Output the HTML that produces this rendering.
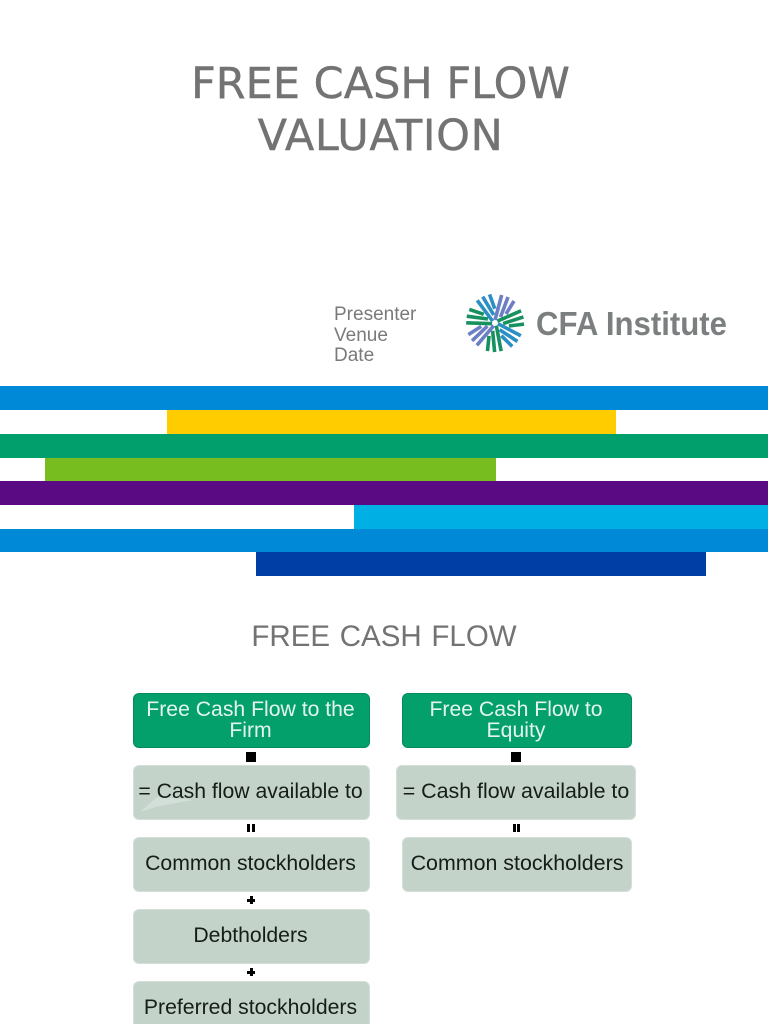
<!DOCTYPE html>
<html>
<head>
<meta charset="utf-8">
<style>
html,body{margin:0;padding:0;background:#fff;}
#p{position:relative;width:768px;height:1024px;overflow:hidden;background:#fff;font-family:"Liberation Sans",sans-serif;}
#p div{position:absolute;}
.t{color:#737373;text-align:center;white-space:nowrap;}
.b{display:flex;align-items:center;justify-content:center;text-align:center;box-sizing:border-box;border-radius:6px;height:55px;padding-right:2px;font-size:21.2px;line-height:21px;}
.g{background:#04a06b;color:#e4f5ee;border:1px solid #038a5c;padding-bottom:2px;}
.s{background:#c3d3ca;color:#161c18;border:1px solid #d3dfd8;white-space:nowrap;padding-bottom:3px;}
.o{background:#000;}
</style>
</head>
<body>
<div id="p">
<div class="t" style="left:0;top:58px;width:761px;font-family:'DejaVu Sans',sans-serif;font-size:43px;line-height:52px;-webkit-text-stroke:0.4px #737373;">FREE CASH FLOW<br><span style="letter-spacing:0.6px;">VALUATION</span></div>
<div style="left:334px;top:305px;font-size:19px;line-height:20.5px;color:#7a7a7a;">Presenter<br>Venue<br>Date</div>

<svg style="position:absolute;left:460px;top:288px;" width="275" height="70" viewBox="460 288 275 70">
<defs>
<g id="bl" fill="none" stroke-width="3.6">
<path d="M0 -3 L6.7 -28"/><path d="M5.5 -6 L13 -26"/><path d="M11 -9 L19 -22"/>
</g>
</defs>
<g transform="translate(495 323)">
<use href="#bl" stroke="#6d7fc4"/>
<use href="#bl" stroke="#17915f" transform="rotate(51.4)"/>
<use href="#bl" stroke="#2b8fc4" transform="rotate(102.8)"/>
<use href="#bl" stroke="#17915f" transform="rotate(154.2)"/>
<use href="#bl" stroke="#6d7fc4" transform="rotate(205.6)"/>
<use href="#bl" stroke="#17915f" transform="rotate(257)"/>
<use href="#bl" stroke="#2b8fc4" transform="rotate(308.4)"/>
</g>
<text x="536" y="335" font-family="Liberation Sans, sans-serif" font-weight="bold" font-size="33" fill="#7b7f80" textLength="191" lengthAdjust="spacingAndGlyphs">CFA Institute</text>
</svg>

<div style="left:0;top:386px;width:768px;height:24px;background:#0089d6;"></div>
<div style="left:167px;top:410px;width:449px;height:24px;background:#ffcc00;"></div>
<div style="left:0;top:434px;width:768px;height:24px;background:#009f6b;"></div>
<div style="left:45px;top:458px;width:451px;height:23px;background:#78bd1f;"></div>
<div style="left:0;top:481px;width:768px;height:24px;background:#5a0a82;"></div>
<div style="left:354px;top:505px;width:414px;height:24px;background:#00b0e4;"></div>
<div style="left:0;top:529px;width:768px;height:23px;background:#0089d6;"></div>
<div style="left:256px;top:552px;width:450px;height:24px;background:#003da5;"></div>

<div class="t" style="left:0;top:619px;width:768px;font-size:29.5px;line-height:36px;"><span style="word-spacing:1.5px;">FREE CASH FLOW</span></div>

<div class="b g" style="left:133px;top:693px;width:237px;">Free Cash Flow to the<br>Firm</div>
<div class="o" style="left:246px;top:752px;width:10px;height:10px;"></div>
<div class="b s" style="left:133px;top:765px;width:237px;"></div>
<svg style="position:absolute;left:133px;top:765px;" width="70" height="56"><polygon points="7,47 24,32 60,35 26,41" fill="#d2dfd8"/></svg>
<div style="left:132px;top:765px;width:237px;height:54px;display:flex;align-items:center;justify-content:center;font-size:21.2px;color:#161c18;white-space:nowrap;">= Cash flow available to</div>
<div class="o" style="left:247px;top:824px;width:3px;height:8px;"></div>
<div class="o" style="left:252px;top:824px;width:3px;height:8px;"></div>
<div class="b s" style="left:133px;top:837px;width:237px;">Common stockholders</div>
<div class="o" style="left:247px;top:899px;width:8px;height:3px;"></div>
<div class="o" style="left:249.5px;top:896px;width:3px;height:8px;"></div>
<div class="b s" style="left:133px;top:909px;width:237px;">Debtholders</div>
<div class="o" style="left:247px;top:971px;width:8px;height:3px;"></div>
<div class="o" style="left:249.5px;top:968px;width:3px;height:8px;"></div>
<div class="b s" style="left:133px;top:981px;width:237px;">Preferred stockholders</div>

<div class="b g" style="left:402px;top:693px;width:230px;">Free Cash Flow to<br>Equity</div>
<div class="o" style="left:511px;top:752px;width:10px;height:10px;"></div>
<div class="b s" style="left:396px;top:765px;width:240px;padding-right:0;font-size:21.4px;">= Cash flow available to</div>
<div class="o" style="left:513px;top:824px;width:3px;height:8px;"></div>
<div class="o" style="left:517px;top:824px;width:3px;height:8px;"></div>
<div class="b s" style="left:402px;top:837px;width:230px;padding-right:0;font-size:21.4px;">Common stockholders</div>
</div>
</body>
</html>
